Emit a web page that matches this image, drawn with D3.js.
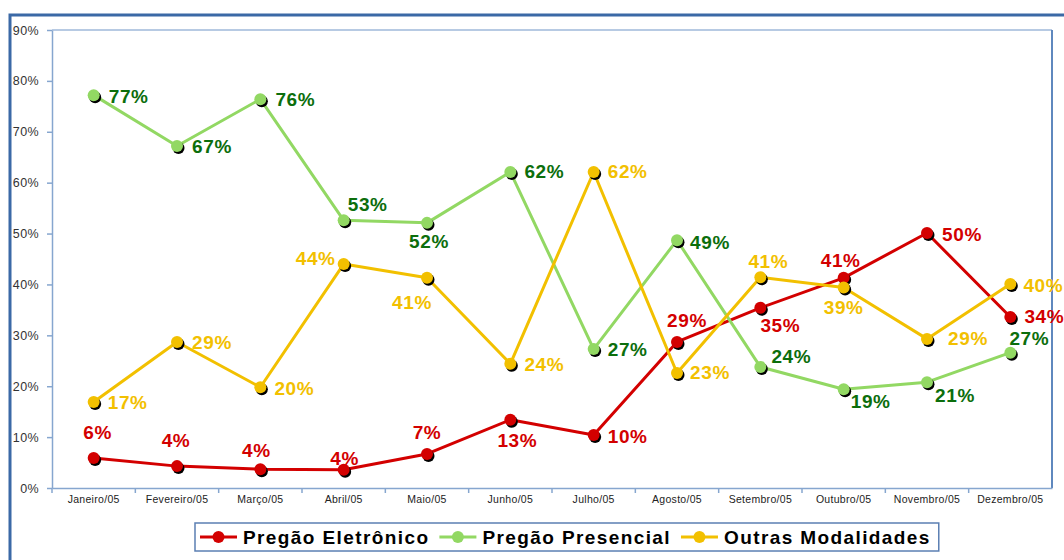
<!DOCTYPE html>
<html>
<head>
<meta charset="utf-8">
<script src="https://cdn.jsdelivr.net/npm/d3@7"></script>
<style>
  body { margin: 0; background: #fff; }
  svg { display: block; font-family: "Liberation Sans", Arial, sans-serif; }
</style>
</head>
<body>
<svg id="chart"></svg>
<script>
// values (percent)
const months = ['Janeiro/05', 'Fevereiro/05', 'Março/05', 'Abril/05', 'Maio/05', 'Junho/05',
  'Julho/05', 'Agosto/05', 'Setembro/05', 'Outubro/05', 'Novembro/05', 'Dezembro/05'];
const eletronico = [5.9, 4.3, 3.7, 3.6, 6.7, 13.4, 10.4, 28.7, 35.4, 41.3, 50.1, 33.6];
const presencial = [77.2, 67.2, 76.4, 52.6, 52.1, 62.1, 27.3, 48.7, 23.8, 19.4, 20.8, 26.6];
const outras = [16.9, 28.7, 19.8, 44.0, 41.3, 24.4, 62.1, 22.6, 41.4, 39.4, 29.3, 40.1];
const yTicks = [0, 10, 20, 30, 40, 50, 60, 70, 80, 90];
const seriesNames = ['Pregão Eletrônico', 'Pregão Presencial', 'Outras Modalidades'];

// where each data label sits relative to its point [dx, dy]
const offsetsEletronico = [[4, -25], [-1, -26], [-4, -19], [1, -11], [0, -21], [7, 21],
  [34, 1], [10, -21], [20, 18], [-3, -17], [35, 1], [34, -1]];
const offsetsPresencial = [[35, 1], [35, 0], [35, 0], [24, -16], [2, 19], [34, 0],
  [34, 0], [33, 2], [31, -10], [27, 12], [28, 13], [19, -14]];
const offsetsOutras = [[34, 1], [35, 1], [34, 1], [-28, -6], [-15, 25], [34, 1],
  [34, 0], [33, 0], [8, -16], [0, 20], [41, 0], [33, 2]];

const W = 1064, H = 560;
const margin = { top: 30, right: 12, bottom: 72, left: 52 };

const svg = d3.select('#chart').attr('width', W).attr('height', H);

// outer frame
svg.append('rect')
  .attr('x', 10).attr('y', 15)
  .attr('width', 1080).attr('height', 580)
  .attr('fill', '#fff')
  .attr('stroke', '#3b69a6')
  .attr('stroke-width', 3);

const x = d3.scaleBand()
  .domain(months)
  .range([margin.left, W - margin.right]);

const y = d3.scaleLinear()
  .domain([0, 90])
  .range([H - margin.bottom, margin.top]);

const cx = m => x(m) + x.bandwidth() / 2;

// plot border (top + right)
svg.append('line')
  .attr('x1', margin.left).attr('x2', W - margin.right)
  .attr('y1', y(90)).attr('y2', y(90))
  .attr('stroke', '#9fb9da').attr('stroke-width', 1.5);
svg.append('line')
  .attr('x1', W - margin.right).attr('x2', W - margin.right)
  .attr('y1', y(90)).attr('y2', y(0))
  .attr('stroke', '#5f88be').attr('stroke-width', 2);

// y axis
const yAxis = svg.append('g')
  .attr('transform', `translate(${margin.left},0)`)
  .call(d3.axisLeft(y).tickValues(yTicks).tickFormat(d => d + '%').tickSize(5).tickPadding(8).tickSizeOuter(0));
yAxis.selectAll('path, line').attr('stroke', '#86a6cf').attr('stroke-width', 1.5);
yAxis.selectAll('text')
  .attr('fill', '#333')
  .style('font-size', '12.5px')
  .style('letter-spacing', '0.4px');

// x axis
const xAxis = svg.append('g')
  .attr('transform', `translate(0,${y(0)})`)
  .call(d3.axisBottom(x).tickSize(0).tickPadding(8).tickSizeOuter(0));
xAxis.select('.domain').attr('stroke', '#86a6cf').attr('stroke-width', 1.5);
xAxis.selectAll('text')
  .attr('fill', '#222')
  .style('font-size', '10.5px')
  .style('letter-spacing', '0.3px');

// tick marks between categories
svg.append('g')
  .selectAll('line')
  .data(months)
  .join('line')
  .attr('x1', d => x(d)).attr('x2', d => x(d))
  .attr('y1', y(0)).attr('y2', y(0) + 5)
  .attr('stroke', '#86a6cf').attr('stroke-width', 1.5);

const series = [
  { name: seriesNames[0], values: eletronico, offsets: offsetsEletronico, color: '#d30000', text: '#d30000' },
  { name: seriesNames[1], values: presencial, offsets: offsetsPresencial, color: '#92d863', text: '#0c6e0c' },
  { name: seriesNames[2], values: outras, offsets: offsetsOutras, color: '#f2c000', text: '#f2c000' }
];

const line = d3.line()
  .x((d, i) => cx(months[i]))
  .y(d => y(d));

series.forEach(s => {
  const g = svg.append('g');
  g.append('path')
    .datum(s.values)
    .attr('fill', 'none')
    .attr('stroke', s.color)
    .attr('stroke-width', 3)
    .attr('stroke-linejoin', 'round')
    .attr('d', line);

  // marker shadows
  g.selectAll('circle.shadow')
    .data(s.values)
    .join('circle')
    .attr('class', 'shadow')
    .attr('cx', (d, i) => cx(months[i]) + 1.5)
    .attr('cy', d => y(d) + 2)
    .attr('r', 6)
    .attr('fill', '#000');

  g.selectAll('circle.dot')
    .data(s.values)
    .join('circle')
    .attr('class', 'dot')
    .attr('cx', (d, i) => cx(months[i]))
    .attr('cy', d => y(d))
    .attr('r', 6)
    .attr('fill', s.color);
});

// data labels on top
series.forEach(s => {
  svg.append('g')
    .selectAll('text')
    .data(s.values)
    .join('text')
    .attr('x', (d, i) => cx(months[i]) + s.offsets[i][0])
    .attr('y', (d, i) => y(d) + s.offsets[i][1])
    .attr('text-anchor', 'middle')
    .attr('dominant-baseline', 'central')
    .attr('fill', s.text)
    .style('font-size', '19px')
    .style('font-weight', 'bold')
    .style('letter-spacing', '0.6px')
    .text(d => d3.format('.0f')(d) + '%');
});

// legend
const legend = svg.append('g');
const legendBox = legend.append('rect')
  .attr('y', 523).attr('height', 28)
  .attr('fill', '#fff')
  .attr('stroke', '#5b7fb3')
  .attr('stroke-width', 1.5);

let lx = 200;
series.forEach(s => {
  const item = legend.append('g').attr('transform', `translate(${lx},537)`);
  item.append('line')
    .attr('x1', 0).attr('x2', 37)
    .attr('stroke', s.color).attr('stroke-width', 3);
  item.append('circle')
    .attr('cx', 18.5).attr('r', 6)
    .attr('fill', s.color);
  const t = item.append('text')
    .attr('x', 43)
    .attr('dominant-baseline', 'central')
    .attr('fill', '#000')
    .style('font-size', '19px')
    .style('font-weight', 'bold')
    .style('letter-spacing', '1.4px')
    .text(s.name);
  lx += 43 + t.node().getComputedTextLength() + 10;
});
legendBox.attr('x', 195).attr('width', lx - 10 - 195 + 8);
</script>
</body>
</html>
